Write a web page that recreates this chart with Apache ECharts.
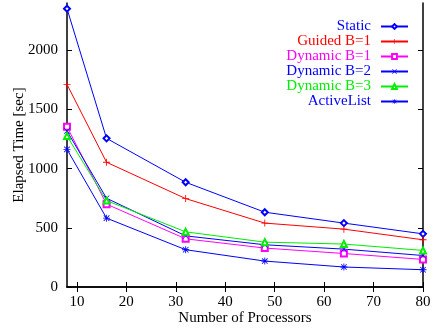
<!DOCTYPE html>
<html><head><meta charset="utf-8">
<script src="https://cdn.jsdelivr.net/npm/echarts@6/dist/echarts.min.js"></script>
<style>html,body{margin:0;padding:0;background:#fff}#c{width:434px;height:329px}</style>
</head><body><div id="c"></div>
<script>
const processors = [8, 16, 32, 48, 64, 80];
const staticT   = [2352, 1256, 885, 632, 540, 449];
const guidedB1  = [1712, 1054, 747, 540, 489, 399];
const dynamicB1 = [1354, 700, 407, 329, 283, 233];
const dynamicB2 = [1318, 750, 432, 357, 320, 266];
const dynamicB3 = [1276, 730, 466, 379, 363, 309];
const activeList= [1163, 582, 315, 219, 169, 146];
const xTicks = [10, 20, 30, 40, 50, 60, 70, 80];
const yTicks = [0, 500, 1000, 1500, 2000];

const FONT = '"Liberation Serif", "DejaVu Serif", serif';
const PLUS = 'path://M4.4,0H5.6V4.4H10V5.6H5.6V10H4.4V5.6H0V4.4H4.4Z';
const CROSS = 'path://M0.8,0L5,4.2L9.2,0L10,0.8L5.8,5L10,9.2L9.2,10L5,5.8L0.8,10L0,9.2L4.2,5L0,0.8Z';
const STAR = 'path://M4.4,0H5.6V3.6L8.6,0.7L9.4,1.5L6.4,4.4H10V5.6H6.4L9.4,8.5L8.6,9.3L5.6,6.4V10H4.4V6.4L1.4,9.3L0.6,8.5L3.6,5.6H0V4.4H3.6L0.6,1.5L1.4,0.7L4.4,3.6Z';

function mk(name, data, color, symbol, size) {
  return {
    name, type: 'line', data: processors.map((p, i) => [p, data[i]]),
    symbol, symbolSize: size, showSymbol: true,
    lineStyle: { color, width: 1 },
    itemStyle: { color, borderWidth: 0 },
    emphasis: { disabled: true }, animation: false, z: 3
  };
}
const series = [
  mk('Static', staticT, '#0000ff', 'emptyDiamond', 6),
  mk('Guided B=1', guidedB1, '#ff0000', PLUS, 7),
  mk('Dynamic B=1', dynamicB1, '#ff00ff', 'emptyRect', 6),
  mk('Dynamic B=2', dynamicB2, '#0000ff', CROSS, 6),
  mk('Dynamic B=3', dynamicB3, '#00ee00', 'emptyTriangle', 6),
  mk('ActiveList', activeList, '#0000ff', STAR, 7)
];
const legendColors = ['#0000ff','#ff0000','#ff00ff','#0000ff','#00ee00','#0000ff'];

const axisLineStyle = { color: '#000', width: 1.5 };
const chart = echarts.init(document.getElementById('c'), null, { renderer: 'canvas' });
chart.setOption({
  animation: false,
  backgroundColor: '#fff',
  grid: { left: 67, right: 11, top: 3, bottom: 42, containLabel: false, outerBoundsMode: 'none' },
  legend: {
    orient: 'vertical', right: 25, top: 19, align: 'right', padding: 0,
    itemWidth: 27, itemHeight: 6, itemGap: 0,
    data: series.map((s, i) => ({ name: s.name, textStyle: { color: legendColors[i] } })),
    textStyle: { fontFamily: FONT, fontSize: 15, lineHeight: 15, padding: [0, 5, 0, 0] },
    selectedMode: false
  },
  xAxis: [{
    type: 'value', min: 8, max: 80, position: 'bottom',
    name: 'Number of Processors', nameLocation: 'middle', nameGap: 24, nameMoveOverlap: false,
    nameTextStyle: { fontFamily: FONT, fontSize: 15, color: '#000' },
    axisLine: { show: true, lineStyle: axisLineStyle },
    axisTick: { show: true, inside: true, length: 5, customValues: xTicks, lineStyle: { color: '#000' } },
    axisLabel: { customValues: xTicks, fontFamily: FONT, fontSize: 15, color: '#000', margin: 8 },
    splitLine: { show: false }
  }, {
    type: 'value', min: 8, max: 80, position: 'top',
    axisLine: { show: true, lineStyle: axisLineStyle },
    axisTick: { show: true, inside: true, length: 5, customValues: xTicks, lineStyle: { color: '#000' } },
    axisLabel: { show: false }, splitLine: { show: false }
  }],
  yAxis: [{
    type: 'value', min: 0, max: 2400, position: 'left',
    name: 'Elapsed Time [sec]', nameLocation: 'middle', nameGap: 40, nameMoveOverlap: false,
    nameTextStyle: { fontFamily: FONT, fontSize: 15, color: '#000' },
    axisLine: { show: true, lineStyle: axisLineStyle },
    axisTick: { show: true, inside: true, length: 5, customValues: yTicks, lineStyle: { color: '#000' } },
    axisLabel: { customValues: yTicks, formatter: v => String(v), fontFamily: FONT, fontSize: 15, color: '#000', margin: 9 },
    splitLine: { show: false }
  }, {
    type: 'value', min: 0, max: 2400, position: 'right',
    axisLine: { show: true, lineStyle: axisLineStyle },
    axisTick: { show: true, inside: true, length: 5, customValues: yTicks, lineStyle: { color: '#000' } },
    axisLabel: { show: false }, splitLine: { show: false }
  }],
  series
});
</script></body></html>
